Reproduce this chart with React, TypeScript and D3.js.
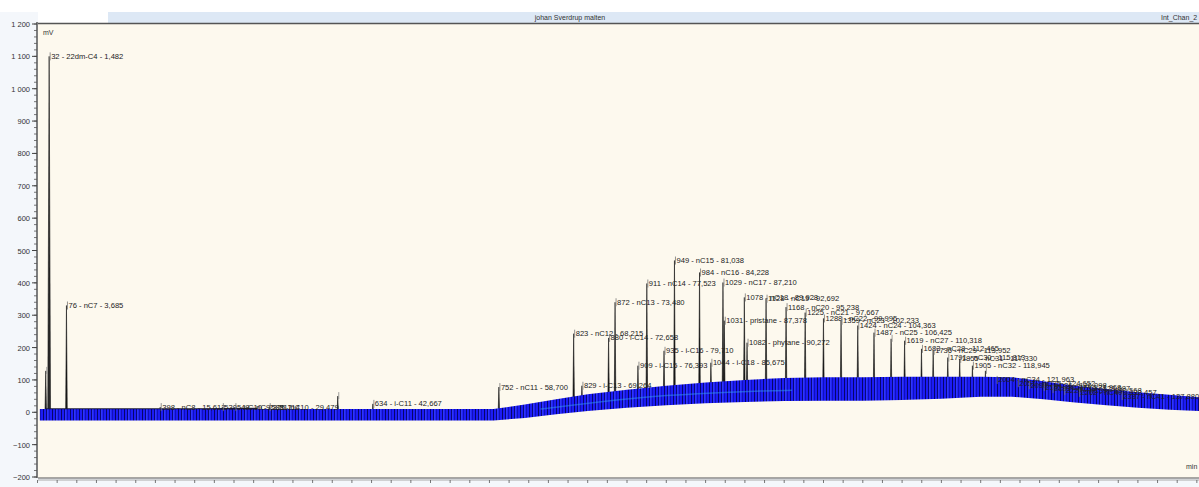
// @ts-nocheck
import * as d3 from "d3";

// retention time (min), height (mV), peak label
const peakTimes = [1.05, 1.482, 3.685, 15.612, 23.517, 25.114, 29.479, 38.2, 42.667, 58.7, 68.215, 69.264, 72.658, 73.48, 76.393, 77.523, 79.71, 81.038, 84.228, 85.675, 87.21, 87.378, 89.928, 90.272, 92.692, 95.238, 97.667, 99.995, 102.233, 104.363, 106.425, 108.6, 110.318, 112.465, 113.952, 115.813, 117.33, 118.945, 120.6, 121.963, 124.652, 126.098, 127.968, 129.087, 130.568, 132.457, 137.88];
const peakHeights = [128, 1100, 330, 16, 16, 16, 16, 50, 26, 78, 243, 82, 230, 340, 144, 398, 190, 469, 432, 153, 401, 283, 355, 215, 351, 325, 308, 290, 283, 268, 246, 227, 221, 196, 190, 169, 165, 144, 128, 100, 90, 84, 78, 72, 66, 60, 50];
const peakLabels = ["", "32 - 22dm-C4 - 1,482", "76 - nC7 - 3,685", "398 - nC8 - 15,612", "530 - i-C10 - 23,517", "548 - nC9 - 25,114", "588 - nC10 - 29,479", "", "634 - i-C11 - 42,667", "752 - nC11 - 58,700", "823 - nC12 - 68,215", "829 - i-C13 - 69,264", "880 - i-C14 - 72,658", "872 - nC13 - 73,480", "909 - i-C15 - 76,393", "911 - nC14 - 77,523", "935 - i-C16 - 79,710", "949 - nC15 - 81,038", "984 - nC16 - 84,228", "1044 - i-C18 - 85,675", "1029 - nC17 - 87,210", "1031 - pristane - 87,378", "1078 - nC18 - 89,928", "1082 - phytane - 90,272", "1128 - nC19 - 92,692", "1168 - nC20 - 95,238", "1225 - nC21 - 97,667", "1288 - nC22 - 99,995", "1359 - nC23 - 102,233", "1424 - nC24 - 104,363", "1487 - nC25 - 106,425", "", "1619 - nC27 - 110,318", "1683 - nC28 - 112,465", "1736 - nC29 - 113,952", "1791 - nC30 - 115,813", "1855 - nC31 - 117,330", "1905 - nC32 - 118,945", "", "2004 - nC34 - 121,963", "2051 - nC35 - 124,652", "2098 - nC36 - 126,098", "2142 - nC37 - 127,968", "2183 - nC38 - 129,087", "2224 - nC39 - 130,568", "2262 - nC40 - 132,457", "2337 - nC41 - 137,880"];

// noisy baseline band (upper / lower envelope)
const bandTimes = [0.3, 10, 20, 30, 40, 50, 58, 62, 66, 70, 75, 80, 85, 90, 95, 100, 105, 110, 115, 120, 124, 128, 132, 136, 140, 144, 148];
const bandUpper = [10, 10, 10, 10, 10, 10, 10, 24, 40, 56, 70, 82, 92, 100, 106, 108, 108, 110, 110, 110, 108, 96, 82, 72, 62, 54, 46];
const bandLower = [-25, -25, -25, -25, -25, -25, -25, -18, -6, 4, 14, 22, 28, 32, 35, 36, 36, 38, 42, 48, 48, 40, 30, 22, 14, 8, 4];
// lighter core seen inside the band
const coreTimes = [64, 68, 72, 76, 80, 84, 88, 92, 96];
const coreValues = [10, 22, 34, 44, 52, 58, 62, 66, 68];
// black FID baseline at the start
const fidTimes = [1, 10, 20, 28];
const fidValues = [11, 11, 11, 12];

const yTicks = [-200, -100, 0, 100, 200, 300, 400, 500, 600, 700, 800, 900, 1000, 1100, 1200];
const xTicks = [0, 10, 20, 30, 40, 50, 60, 70, 80, 90, 100, 110, 120, 130, 140, 150];

const W = 1199, H = 487;
const plotLeft = 38, plotTop = 23, plotBottom = 478;

const x = d3.scaleLinear().domain([0, 148]).range([37.5, 37.5 + 148 * 7.86]);
const y = d3.scaleLinear().domain([-200, 1200]).range([477, 24]);
const baseAt = d3.scaleLinear().domain(bandTimes).range(bandLower);

const fmtY = (v) => d3.format(",")(v).replace(/,/g, " ");

export default function App() {
    const band = d3.area()
        .x((d, i) => x(bandTimes[i]))
        .y0((d, i) => y(bandLower[i]))
        .y1((d, i) => y(bandUpper[i]));
    const core = d3.line().x((d, i) => x(coreTimes[i])).y((d) => y(d)).curve(d3.curveBasis);
    const fid = d3.line().x((d, i) => x(fidTimes[i])).y((d) => y(d));

    const minorY = d3.range(-200, 1201, 20);
    const minorX = d3.range(0, 148.1, 2.5);

    return (
        <svg width={W} height={H} style={{ position: "absolute", left: 0, top: 0, fontFamily: "'Liberation Sans', Arial, sans-serif" }}>
            <defs>
                <pattern id="noise" width="9" height="7" patternUnits="userSpaceOnUse">
                    <rect width="9" height="7" fill="#1c1cf5" />
                    <rect x="1" width="1" height="7" fill="#08087a" />
                    <rect x="2.6" width="0.5" height="7" fill="#4a60ff" />
                    <rect x="4" width="0.7" height="7" fill="#0c0ca0" />
                    <rect x="7" width="1" height="7" fill="#06066a" />
                </pattern>
                <clipPath id="plotClip">
                    <rect x={plotLeft} y={plotTop} width={W - plotLeft} height={plotBottom - plotTop} />
                </clipPath>
            </defs>
            <rect width={W} height={H} fill="#f4f7fb" />
            <rect width={W} height={12} fill="#ffffff" />
            <rect x={plotLeft} y={12} width={W - plotLeft} height={11} fill="#dde8f5" />
            <rect x={plotLeft} y={12} width={70} height={11} fill="#ffffff" />
            <text x={570} y={20} fontSize={7} fill="#333" textAnchor="middle">johan Sverdrup malten</text>
            <text x={1161} y={20} fontSize={7} fill="#333">Int_Chan_2</text>

            <rect x={plotLeft} y={plotTop} width={W - plotLeft} height={plotBottom - plotTop} fill="#fdf9ee" />
            <line x1={plotLeft} x2={W} y1={plotTop + 0.5} y2={plotTop + 0.5} stroke="#555" strokeWidth={1.5} />

            <g clipPath="url(#plotClip)">
                {/* peaks */}
                {peakTimes.map((t, i) => {
                    const hw = i === 1 ? 0.18 : 0.11;
                    const b = baseAt(t) + 6;
                    return (
                        <path key={"p" + i}
                            d={`M${x(t - hw)},${y(b)} L${x(t)},${y(peakHeights[i])} L${x(t + hw)},${y(b)} Z`}
                            fill={i === 1 ? "#2a2a2a" : "#151515"} stroke="#151515" strokeWidth={0.6} />
                    );
                })}
                <path d={band(bandTimes)} fill="url(#noise)" />
                <path d={core(coreValues)} fill="none" stroke="#38a8f0" strokeWidth={1.5} opacity={0.45} />
                <path d={fid(fidValues)} fill="none" stroke="#1a1a3a" strokeWidth={1.2} />
                {/* peak labels */}
                {peakTimes.map((t, i) => peakLabels[i] === "" ? null : (
                    <g key={"l" + i}>
                        <line x1={x(t) + 1} x2={x(t) + 1} y1={y(peakHeights[i]) - 4} y2={y(peakHeights[i]) + 4} stroke="#777" strokeWidth={0.8} />
                        <text x={x(t) + 2} y={y(peakHeights[i]) + 2.5} fontSize={7.6} fill="#222">{peakLabels[i]}</text>
                    </g>
                ))}
                {peakTimes.map((t, i) => peakLabels[i] !== "" ? null : (
                    <line key={"u" + i} x1={x(t) + 1} x2={x(t) + 1} y1={y(peakHeights[i]) - 4} y2={y(peakHeights[i]) + 3} stroke="#888" strokeWidth={0.8} />
                ))}
                <text x={43} y={35} fontSize={7} fill="#333">mV</text>
                <text x={1186} y={469} fontSize={7} fill="#333">min</text>
            </g>

            {/* y axis */}
            <line x1={plotLeft - 1} x2={plotLeft - 1} y1={y(1200) - 2} y2={plotBottom} stroke="#555" strokeWidth={1.5} />
            {minorY.map((v) => (
                <line key={"my" + v} x1={plotLeft - 4} x2={plotLeft - 1} y1={y(v)} y2={y(v)} stroke="#555" strokeWidth={0.8} />
            ))}
            {yTicks.map((v) => (
                <g key={"y" + v}>
                    <line x1={plotLeft - 6} x2={plotLeft - 1} y1={y(v)} y2={y(v)} stroke="#444" strokeWidth={1} />
                    <text x={plotLeft - 8} y={y(v) + 3} fontSize={7.5} fill="#333" textAnchor="end">{fmtY(v)}</text>
                </g>
            ))}

            {/* x axis */}
            <line x1={plotLeft} x2={W} y1={plotBottom} y2={plotBottom} stroke="#555" strokeWidth={1.2} />
            <line x1={plotLeft} x2={W} y1={plotBottom + 2} y2={plotBottom + 2} stroke="#aaa" strokeWidth={1} />
            {minorX.map((v) => (
                <line key={"mx" + v} x1={x(v)} x2={x(v)} y1={plotBottom + 2} y2={plotBottom + 5} stroke="#555" strokeWidth={0.8} />
            ))}
            {xTicks.map((v) => (
                <text key={"x" + v} x={x(v)} y={492} fontSize={7.5} fill="#333" textAnchor="middle">{v}</text>
            ))}
        </svg>
    );
}
